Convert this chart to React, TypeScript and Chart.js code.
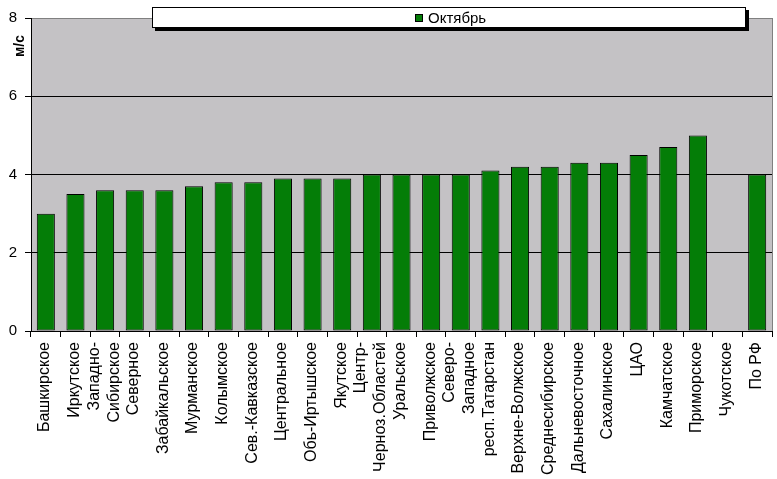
import React, { useEffect, useRef } from "react";
import { Chart, registerables } from "chart.js";

Chart.register(...registerables);

const categories: (string | string[])[] = [
  "Башкирское",
  "Иркутское",
  ["Западно-", "Сибирское"],
  "Северное",
  "Забайкальское",
  "Мурманское",
  "Колымское",
  "Сев.-Кавказское",
  "Центральное",
  "Обь-Иртышское",
  "Якутское",
  ["Центр-", "Черноз.Областей"],
  "Уральское",
  "Приволжское",
  ["Северо-", "Западное"],
  "респ.Татарстан",
  "Верхне-Волжское",
  "Среднесибирское",
  "Дальневосточное",
  "Сахалинское",
  "ЦАО",
  "Камчатское",
  "Приморское",
  "Чукотское",
  "По РФ",
];

const seriesName = "Октябрь";
const octoberValues: (number | null)[] = [
  3.0, 3.5, 3.6, 3.6, 3.6, 3.7, 3.8, 3.8, 3.9, 3.9, 3.9, 4.0, 4.0, 4.0, 4.0,
  4.1, 4.2, 4.2, 4.3, 4.3, 4.5, 4.7, 5.0, null, 4.0,
];
const yMin = 0;
const yMax = 8;
const yStep = 2;
const yTitle = "м/с";

const FONT = "'Liberation Sans', Arial, sans-serif";
const BAR_COLOR = "#047D07";
const PLOT_BG = "#C4C2C5";
const LABEL_FONT = `16px ${FONT}`;
const LABEL_LINE = 20;

const decorPlugin = {
  id: "decor",
  beforeDraw(chart: any) {
    const { ctx, chartArea: a, width, height } = chart;
    ctx.save();
    ctx.fillStyle = "#FFFFFF";
    ctx.fillRect(0, 0, width, height);
    ctx.fillStyle = PLOT_BG;
    ctx.fillRect(a.left, a.top, a.right - a.left, a.bottom - a.top);
    ctx.restore();
  },
  afterDraw(chart: any) {
    const { ctx, chartArea: a } = chart;
    const xScale = chart.scales.x;
    ctx.save();
    // right border of plot area
    ctx.strokeStyle = "#808080";
    ctx.lineWidth = 1;
    ctx.beginPath();
    ctx.moveTo(Math.round(a.right) + 0.5, a.top);
    ctx.lineTo(Math.round(a.right) + 0.5, a.bottom);
    ctx.stroke();

    // category labels (rotated, multi-line centred on the tick)
    ctx.fillStyle = "#000";
    ctx.font = LABEL_FONT;
    ctx.textAlign = "right";
    ctx.textBaseline = "middle";
    const labels = chart.data.labels as (string | string[])[];
    labels.forEach((lab, i) => {
      const lines = Array.isArray(lab) ? lab : [lab];
      const px = xScale.getPixelForTick(i);
      const n = lines.length;
      lines.forEach((line, j) => {
        const x = px - 1 + (j - (n - 1) / 2) * LABEL_LINE;
        ctx.save();
        ctx.translate(x, a.bottom + 11);
        ctx.rotate(-Math.PI / 2);
        ctx.fillText(line, 0, 0);
        ctx.restore();
      });
    });

    // legend box with shadow
    const lx = 152, ly = 7, lw = 594, lh = 21;
    ctx.fillStyle = "#000";
    ctx.fillRect(lx + 3, ly + 3, lw, lh);
    ctx.fillStyle = "#FFFFFF";
    ctx.fillRect(lx, ly, lw, lh);
    ctx.strokeStyle = "#000";
    ctx.strokeRect(lx + 0.5, ly + 0.5, lw - 1, lh - 1);
    ctx.font = `15px ${FONT}`;
    const tw = ctx.measureText(seriesName).width;
    const total = 8 + 5 + tw;
    const sx = Math.round(lx + lw / 2 - total / 2) + 2;
    const cy = ly + lh / 2;
    ctx.fillStyle = BAR_COLOR;
    ctx.fillRect(sx, Math.round(cy - 4), 8, 8);
    ctx.strokeRect(sx + 0.5, Math.round(cy - 4) + 0.5, 7, 7);
    ctx.fillStyle = "#000";
    ctx.textBaseline = "middle";
    ctx.textAlign = "left";
    ctx.fillText(seriesName, sx + 13, cy + 1);

    // y axis title
    ctx.translate(20, 46);
    ctx.rotate(-Math.PI / 2);
    ctx.font = `bold 14px ${FONT}`;
    ctx.textAlign = "center";
    ctx.textBaseline = "middle";
    ctx.fillText(yTitle, 0, 0);
    ctx.restore();
  },
};

export default function App() {
  const ref = useRef<HTMLCanvasElement | null>(null);

  useEffect(() => {
    if (!ref.current) return;
    const chart = new Chart(ref.current, {
      type: "bar",
      data: {
        labels: categories,
        datasets: [
          {
            label: seriesName,
            data: octoberValues,
            backgroundColor: BAR_COLOR,
            borderColor: "#000",
            borderWidth: 1,
            borderSkipped: false,
            barPercentage: 0.61,
            categoryPercentage: 1,
          },
        ],
      },
      options: {
        animation: false,
        responsive: false,
        maintainAspectRatio: false,
        layout: { padding: { top: 18, right: 5, left: 0, bottom: 0 } },
        plugins: {
          legend: { display: false },
          tooltip: { enabled: false },
        },
        scales: {
          x: {
            offset: true,
            grid: {
              display: true,
              drawOnChartArea: false,
              drawTicks: true,
              tickLength: 6,
              color: "#000",
              offset: true,
            },
            border: { color: "#000", width: 1 },
            ticks: {
              display: false,
              autoSkip: false,
            },
            afterFit: (s: any) => {
              s.height = 148;
            },
          },
          y: {
            min: yMin,
            max: yMax,
            ticks: {
              stepSize: yStep,
              color: "#000",
              padding: 8,
              font: { family: FONT, size: 15 },
            },
            grid: {
              color: (c: any) => (c.tick && c.tick.value === yMax ? "#808080" : "#000"),
              tickColor: "#000",
              tickLength: 6,
            },
            border: { color: "#000", width: 1 },
            afterFit: (s: any) => {
              s.width = 31;
            },
          },
        },
      },
      plugins: [decorPlugin],
    });
    return () => chart.destroy();
  }, []);

  return (
    <div style={{ position: "absolute", left: 0, top: 0, width: 777, height: 479 }}>
      <canvas ref={ref} width={777} height={479} style={{ width: 777, height: 479 }} />
    </div>
  );
}
